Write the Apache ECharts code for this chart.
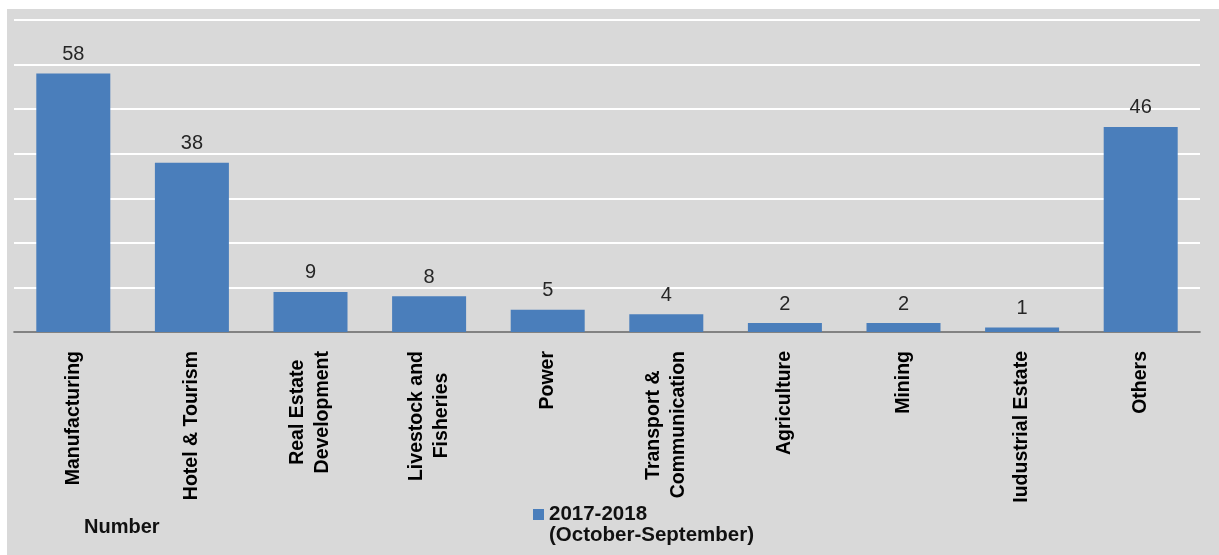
<!DOCTYPE html>
<html>
<head>
<meta charset="utf-8">
<script src="https://cdn.jsdelivr.net/npm/echarts@6/dist/echarts.min.js"></script>
<style>
  html, body { margin: 0; padding: 0; background: #fff; }
  #chart { width: 1219px; height: 555px; }
</style>
</head>
<body>
<div id="chart"></div>
<script>
// sectors (two-line names keep their line break)
const categories = [
  'Manufacturing',
  'Hotel & Tourism',
  'Real Estate\nDevelopment',
  'Livestock and\nFisheries',
  'Power',
  'Transport &\nCommunication',
  'Agriculture',
  'Mining',
  'Iudustrial Estate',
  'Others',
];
const counts = [58, 38, 9, 8, 5, 4, 2, 2, 1, 46];
const seriesName = '2017-2018';
const seriesPeriod = '(October-September)';
const axisTitle = 'Number';

const FONT = '"Liberation Sans", Arial';
const LABEL_SIZE = 19.5;

// rotated labels end at the axis; to centre the short line of a two-line
// label, pad its end with spaces worth half the width difference
const ctx = document.createElement('canvas').getContext('2d');
ctx.font = 'bold ' + LABEL_SIZE + 'px ' + FONT;
const SP = ' ', HAIR = '\u200A';
const spW = ctx.measureText(SP).width;
const hairW = ctx.measureText(HAIR).width || 1;
const labelText = {};
categories.forEach(function (cat) {
  const lines = cat.split('\n');
  const widths = lines.map(function (s) { return ctx.measureText(s).width; });
  const maxW = Math.max.apply(null, widths);
  labelText[cat] = lines.map(function (s, j) {
    let need = (maxW - widths[j]) / 2;
    let pad = '';
    while (need >= spW) { pad += SP; need -= spW; }
    while (need >= hairW * 0.5) { pad += HAIR; need -= hairW; }
    return s + pad;
  }).join('\n');
});

const myChart = echarts.init(document.getElementById('chart'));

const option = {
  backgroundColor: '#fff',
  animation: false,
  graphic: [
    {
      type: 'rect',
      z: -10,
      shape: { x: 7, y: 9, width: 1212, height: 546 },
      style: { fill: '#d9d9d9' },
    },
    {
      type: 'text',
      left: 84,
      top: 517,
      style: {
        text: axisTitle,
        fontFamily: FONT,
        fontWeight: 'bold',
        fontSize: 20,
        fill: '#111',
      },
    },
    {
      type: 'text',
      left: 549,
      top: 525,
      style: {
        text: seriesPeriod,
        fontFamily: FONT,
        fontWeight: 'bold',
        fontSize: 20.5,
        fill: '#111',
      },
    },
  ],
  legend: {
    left: 533,
    top: 504,
    padding: 0,
    itemWidth: 11,
    itemHeight: 11,
    itemGap: 10,
    icon: 'rect',
    data: [seriesName],
    textStyle: {
      fontFamily: FONT,
      fontWeight: 'bold',
      fontSize: 20.5,
      lineHeight: 20,
      color: '#111',
    },
  },
  grid: {
    left: 14,
    right: 19,
    top: 20,
    bottom: 223,
  },
  xAxis: {
    type: 'category',
    data: categories,
    axisTick: { show: false },
    axisLine: { lineStyle: { color: '#595959', width: 1.5 } },
    axisLabel: {
      interval: 0,
      rotate: 90,
      margin: 19,
      fontFamily: FONT,
      fontWeight: 'bold',
      fontSize: LABEL_SIZE,
      lineHeight: 25,
      color: '#000',
      formatter: function (value) { return labelText[value]; },
    },
  },
  yAxis: {
    type: 'value',
    min: 0,
    max: 70,
    interval: 10,
    axisLabel: { show: false },
    axisLine: { show: false },
    axisTick: { show: false },
    splitLine: { lineStyle: { color: '#ffffff', width: 2 } },
  },
  series: [
    {
      name: seriesName,
      type: 'bar',
      data: counts,
      barWidth: 74,
      itemStyle: { color: '#4a7ebb' },
      label: {
        show: true,
        position: 'top',
        distance: 9,
        fontFamily: FONT,
        fontSize: 20,
        color: '#262626',
      },
    },
  ],
};

myChart.setOption(option);
</script>
</body>
</html>
